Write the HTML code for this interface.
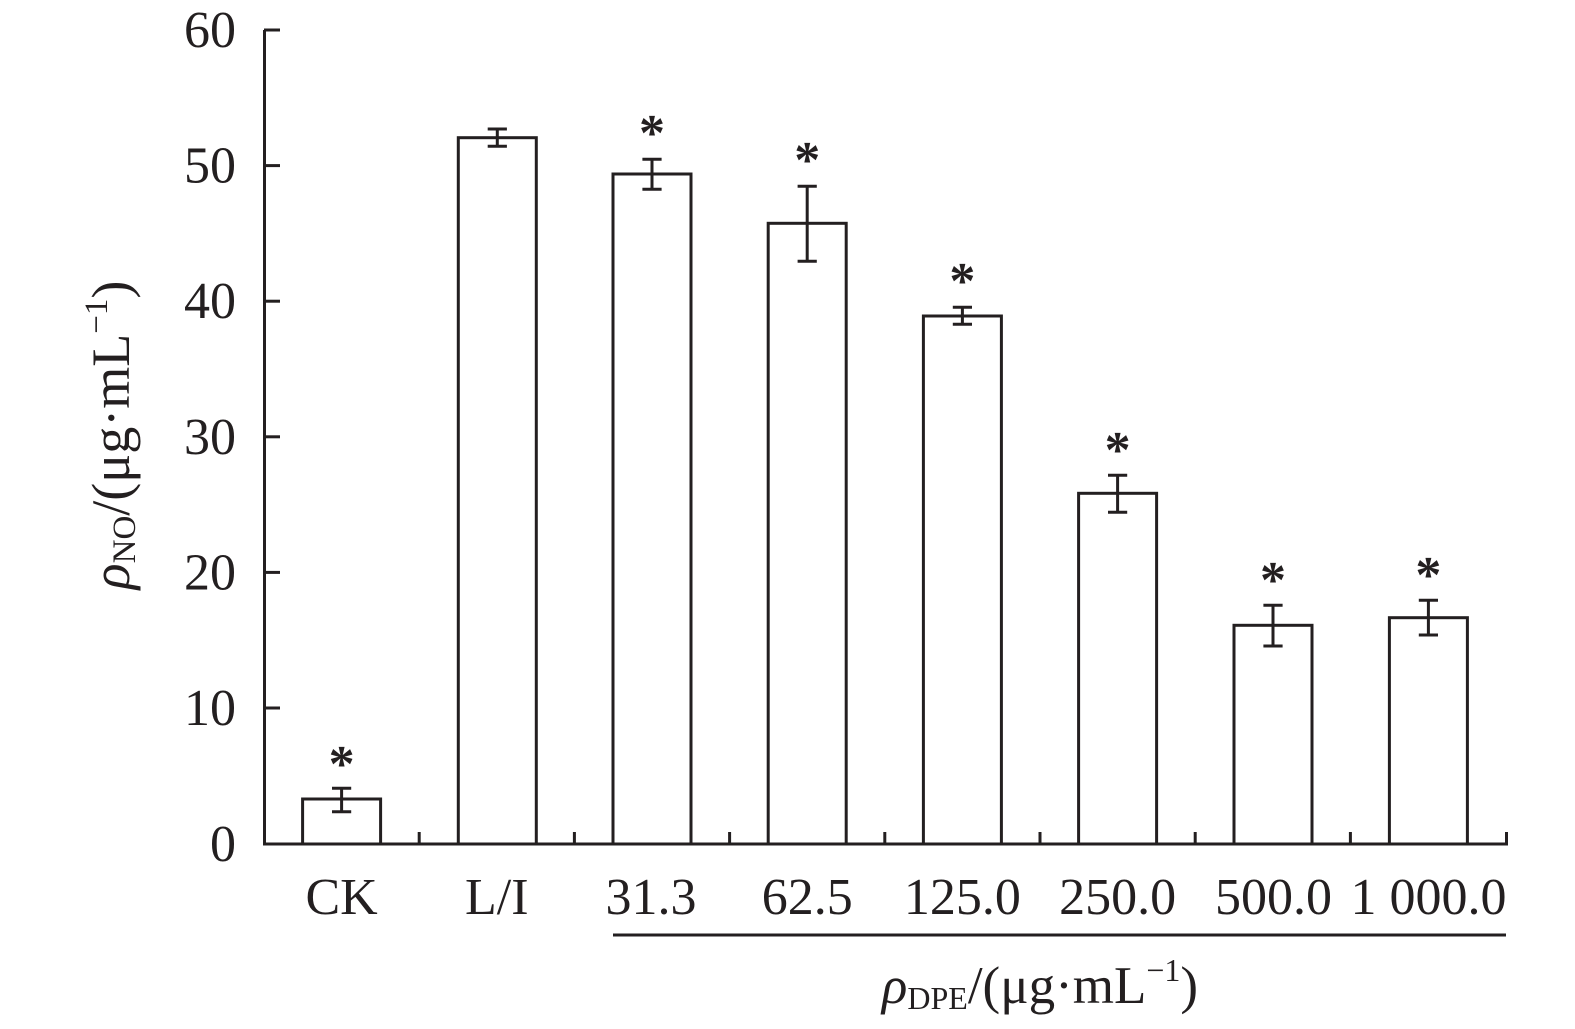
<!DOCTYPE html>
<html>
<head>
<meta charset="utf-8">
<style>
html,body{margin:0;padding:0;background:#fff;}
svg{display:block;}
text{font-family:"Liberation Serif","Times New Roman",serif;fill:#231f20;}
</style>
</head>
<body>
<svg width="1575" height="1029" viewBox="0 0 1575 1029" xmlns="http://www.w3.org/2000/svg">
<g stroke="#231f20" stroke-width="3" fill="none">
  <line x1="264.5" y1="30" x2="264.5" y2="845.5"/>
  <line x1="263" y1="844" x2="1508" y2="844"/>
  <line x1="264" y1="30" x2="280" y2="30"/>
  <line x1="264" y1="165.6" x2="280" y2="165.6"/>
  <line x1="264" y1="301.2" x2="280" y2="301.2"/>
  <line x1="264" y1="436.8" x2="280" y2="436.8"/>
  <line x1="264" y1="572.4" x2="280" y2="572.4"/>
  <line x1="264" y1="708" x2="280" y2="708"/>
  <line x1="419.2" y1="832" x2="419.2" y2="844"/>
  <line x1="574.4" y1="832" x2="574.4" y2="844"/>
  <line x1="729.6" y1="832" x2="729.6" y2="844"/>
  <line x1="884.8" y1="832" x2="884.8" y2="844"/>
  <line x1="1040" y1="832" x2="1040" y2="844"/>
  <line x1="1195.2" y1="832" x2="1195.2" y2="844"/>
  <line x1="1350.4" y1="832" x2="1350.4" y2="844"/>
  <line x1="1506.5" y1="832" x2="1506.5" y2="844"/>
</g>
<g stroke="#231f20" stroke-width="3" fill="#fff">
  <rect x="302.6" y="799" width="78" height="45"/>
  <rect x="458.3" y="137.7" width="78" height="706.3"/>
  <rect x="613" y="174" width="78" height="670"/>
  <rect x="768.2" y="223.3" width="78" height="620.7"/>
  <rect x="923.4" y="316" width="78" height="528"/>
  <rect x="1078.6" y="493.3" width="78" height="350.7"/>
  <rect x="1234" y="625.3" width="78" height="218.7"/>
  <rect x="1389.4" y="617.7" width="78" height="226.3"/>
</g>
<g stroke="#231f20" stroke-width="3" fill="none">
  <path d="M341.6 788.3V811.7M332 788.3H351.2M332 811.7H351.2"/>
  <path d="M497.3 129V146.3M487.7 129H506.9M487.7 146.3H506.9"/>
  <path d="M652 159.3V189.3M642.4 159.3H661.6M642.4 189.3H661.6"/>
  <path d="M807.2 186.3V261.3M797.6 186.3H816.8M797.6 261.3H816.8"/>
  <path d="M962.4 307.3V324.3M952.8 307.3H972M952.8 324.3H972"/>
  <path d="M1117.6 475.3V512.3M1108 475.3H1127.2M1108 512.3H1127.2"/>
  <path d="M1273 605.3V646M1263.4 605.3H1282.6M1263.4 646H1282.6"/>
  <path d="M1428.4 600.3V635M1418.8 600.3H1438M1418.8 635H1438"/>
</g>
<g font-size="52" font-weight="bold" text-anchor="middle">
  <text x="341.6" y="781">*</text>
  <text x="652" y="150">*</text>
  <text x="807.2" y="177">*</text>
  <text x="962.4" y="298">*</text>
  <text x="1117.6" y="467">*</text>
  <text x="1273" y="597">*</text>
  <text x="1428.4" y="592">*</text>
</g>
<g font-size="52" text-anchor="end">
  <text x="236" y="47">60</text>
  <text x="236" y="182.6">50</text>
  <text x="236" y="318.2">40</text>
  <text x="236" y="453.8">30</text>
  <text x="236" y="589.4">20</text>
  <text x="236" y="725">10</text>
  <text x="236" y="861">0</text>
</g>
<g font-size="52" text-anchor="middle">
  <text x="341.6" y="914">CK</text>
  <text x="496.8" y="914">L/I</text>
  <text x="651" y="914">31.3</text>
  <text x="807.2" y="914">62.5</text>
  <text x="962.4" y="914">125.0</text>
  <text x="1117.6" y="914">250.0</text>
  <text x="1273.5" y="914">500.0</text>
  <text x="1428.5" y="914">1 000.0</text>
</g>
<line x1="613" y1="935" x2="1506" y2="935" stroke="#231f20" stroke-width="3"/>
<text x="1040" y="1003" font-size="53" text-anchor="middle"><tspan font-style="italic">ρ</tspan><tspan font-size="32" dy="6">DPE</tspan><tspan dy="-6">/(μg·mL</tspan><tspan font-size="32" dy="-22">−1</tspan><tspan dy="22">)</tspan></text>
<text transform="translate(129,435) rotate(-90)" x="0" y="0" font-size="54" text-anchor="middle"><tspan font-style="italic">ρ</tspan><tspan font-size="33" dy="6">NO</tspan><tspan dy="-6">/(μg·mL</tspan><tspan font-size="33" dy="-22">−1</tspan><tspan dy="22">)</tspan></text>
</svg>
</body>
</html>
